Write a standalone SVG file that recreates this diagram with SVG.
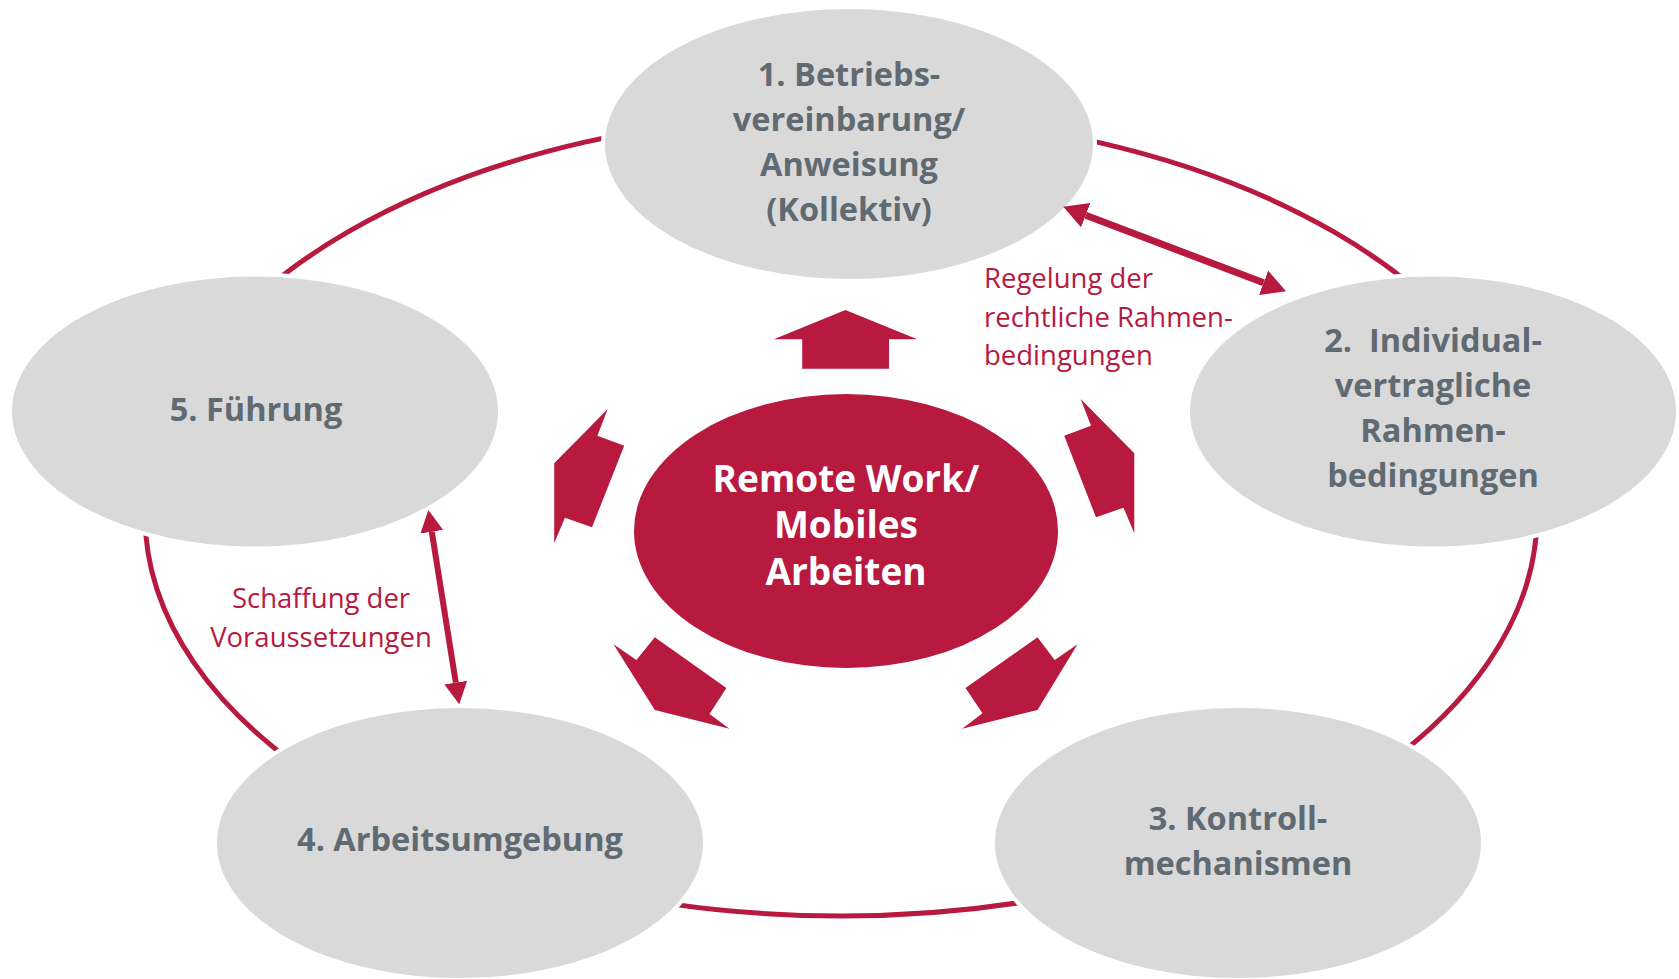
<svg xmlns="http://www.w3.org/2000/svg" width="1679" height="979" viewBox="0 0 1679 979">
<defs>
<style>
.node{fill:#D9D9D9;stroke:#FFFFFF;stroke-width:4}
.ntxt{font-family:"Open Sans","Liberation Sans",sans-serif;font-weight:700;font-size:32.5px;fill:#5F6A72;text-anchor:middle}
.ctxt{font-family:"Open Sans","Liberation Sans",sans-serif;font-weight:700;font-size:37px;fill:#FFFFFF;text-anchor:middle}
.lbl{font-family:"Open Sans","Liberation Sans",sans-serif;font-weight:400;font-size:27.5px;fill:#B7193F}
.red{fill:#B7193F}
.ring{fill:none;stroke:#B7193F;stroke-width:5}
.dbl{stroke:#B7193F;fill:none}
</style>
<marker id="ah" viewBox="0 0 24 26" refX="0" refY="13" markerWidth="24" markerHeight="26" markerUnits="userSpaceOnUse" orient="auto-start-reverse">
<path d="M0,0 L24,13 L0,26 z" fill="#B7193F"/>
</marker>
<marker id="ah2" viewBox="0 0 22 23" refX="0" refY="11.5" markerWidth="22" markerHeight="23" markerUnits="userSpaceOnUse" orient="auto-start-reverse">
<path d="M0,0 L22,11.5 L0,23 z" fill="#B7193F"/>
</marker>
</defs>
<rect width="1679" height="979" fill="#FFFFFF"/>
<g id="connectors">
<ellipse class="ring" cx="841" cy="515" rx="696" ry="401"/>
</g>
<g id="node1">
<ellipse class="node" cx="849" cy="144" rx="246" ry="137"/>
<text class="ntxt" x="849" y="86">1. Betriebs-</text>
<text class="ntxt" x="849" y="131">vereinbarung/</text>
<text class="ntxt" x="849" y="176">Anweisung</text>
<text class="ntxt" x="849" y="221">(Kollektiv)</text>
</g>
<g id="node2">
<ellipse class="node" cx="1433" cy="411.5" rx="245" ry="137"/>
<text class="ntxt" x="1433" y="352" xml:space="preserve">2.  Individual-</text>
<text class="ntxt" x="1433" y="397">vertragliche</text>
<text class="ntxt" x="1433" y="442">Rahmen-</text>
<text class="ntxt" x="1433" y="487">bedingungen</text>
</g>
<g id="node3">
<ellipse class="node" cx="1238" cy="843" rx="245" ry="137"/>
<text class="ntxt" x="1238" y="830">3. Kontroll-</text>
<text class="ntxt" x="1238" y="875">mechanismen</text>
</g>
<g id="node4">
<ellipse class="node" cx="460" cy="843" rx="245" ry="137"/>
<text class="ntxt" x="460" y="851">4. Arbeitsumgebung</text>
</g>
<g id="node5">
<ellipse class="node" cx="255" cy="411.5" rx="245" ry="137"/>
<text class="ntxt" x="256" y="421">5. Führung</text>
</g>
<g id="center">
<ellipse class="red" cx="846" cy="531" rx="212" ry="137"/>
<text class="ctxt" x="846" y="492">Remote Work/</text>
<text class="ctxt" x="846" y="538">Mobiles</text>
<text class="ctxt" x="846" y="585">Arbeiten</text>
</g>
<g id="block-arrows">
<polygon class="red" points="845.4,310 917.3,339.3 889,339.3 889,368.7 802.2,368.7 802.2,339.3 773.8,339.3"/>
<polygon class="red" points="607.7,409 597.4,435.7 624.2,445.7 592,527.3 564.9,517.7 554.2,543.3 554.2,463.3"/>
<polygon class="red" points="1080.7,399 1091,425.7 1064.2,435.7 1096,517.3 1123.5,507.7 1134.3,533.3 1134.3,453.3"/>
<polygon class="red" points="613.5,644.3 636.4,660 654.8,637.3 726.4,688 709.5,714 729.4,728.7 654.8,710"/>
<polygon class="red" points="1077.6,644.3 1054.7,660 1037.5,637.3 965.5,688 982.5,713.3 962.1,728.7 1037.5,710"/>
</g>
<g id="relations">
<line class="dbl" x1="1085.7" y1="215.2" x2="1263.6" y2="282.8" stroke-width="7" marker-start="url(#ah)" marker-end="url(#ah)"/>
<line class="dbl" x1="431.8" y1="531.7" x2="455.8" y2="682.6" stroke-width="6" marker-start="url(#ah2)" marker-end="url(#ah2)"/>
</g>
<g id="label1">
<text class="lbl" x="984" y="288">Regelung der</text>
<text class="lbl" x="984" y="326.5">rechtliche Rahmen-</text>
<text class="lbl" x="984" y="365">bedingungen</text>
</g>
<g id="label2">
<text class="lbl" x="321" y="608" text-anchor="middle">Schaffung der</text>
<text class="lbl" x="321" y="647" text-anchor="middle">Voraussetzungen</text>
</g>
</svg>
